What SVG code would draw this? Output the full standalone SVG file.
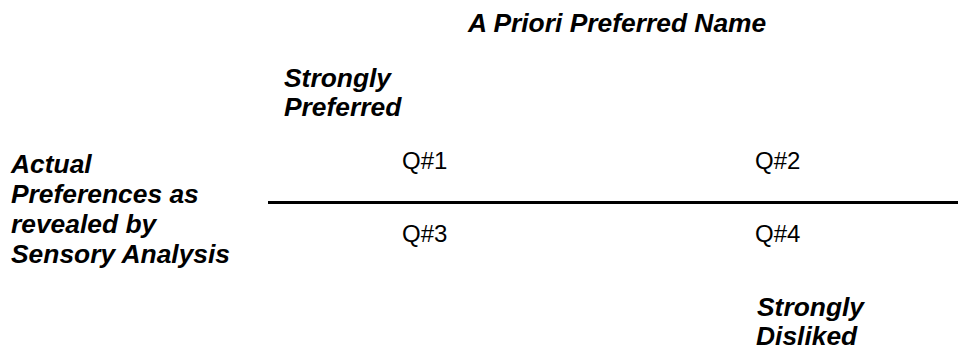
<svg xmlns="http://www.w3.org/2000/svg" width="958" height="351" viewBox="0 0 958 351">
  <style>
    .label { font-family: "Liberation Sans", Arial, sans-serif; font-size: 26.4px; font-weight: bold; font-style: italic; fill: #000; }
    .cell { font-family: "Liberation Sans", Arial, sans-serif; font-size: 24px; fill: #000; }
    .divider { stroke: #000; stroke-width: 3; fill: none; }
  </style>
  <rect width="958" height="351" fill="#fff"/>

  <!-- column heading -->
  <g id="title">
    <text class="label" x="468" y="32">A Priori Preferred Name</text>
  </g>

  <!-- top-left anchor -->
  <g id="strongly-preferred">
    <text class="label" x="284" y="87">Strongly</text>
    <text class="label" x="284" y="116">Preferred</text>
  </g>

  <!-- row heading -->
  <g id="row-label">
    <text class="label" x="11" y="173">Actual</text>
    <text class="label" x="11" y="203">Preferences as</text>
    <text class="label" x="11" y="233">revealed by</text>
    <text class="label" x="11" y="263">Sensory Analysis</text>
  </g>

  <!-- quadrants -->
  <g id="q1"><text class="cell" x="402" y="169">Q#1</text></g>
  <g id="q2"><text class="cell" x="755" y="169">Q#2</text></g>
  <g id="q3"><text class="cell" x="402" y="242">Q#3</text></g>
  <g id="q4"><text class="cell" x="755" y="242">Q#4</text></g>

  <!-- bottom-right anchor -->
  <g id="strongly-disliked">
    <text class="label" x="757" y="316">Strongly</text>
    <text class="label" x="756" y="345">Disliked</text>
  </g>

  <!-- separator between upper and lower quadrants -->
  <g id="connectors">
    <line class="divider" x1="268" y1="202.5" x2="958" y2="202.5"/>
  </g>
</svg>
